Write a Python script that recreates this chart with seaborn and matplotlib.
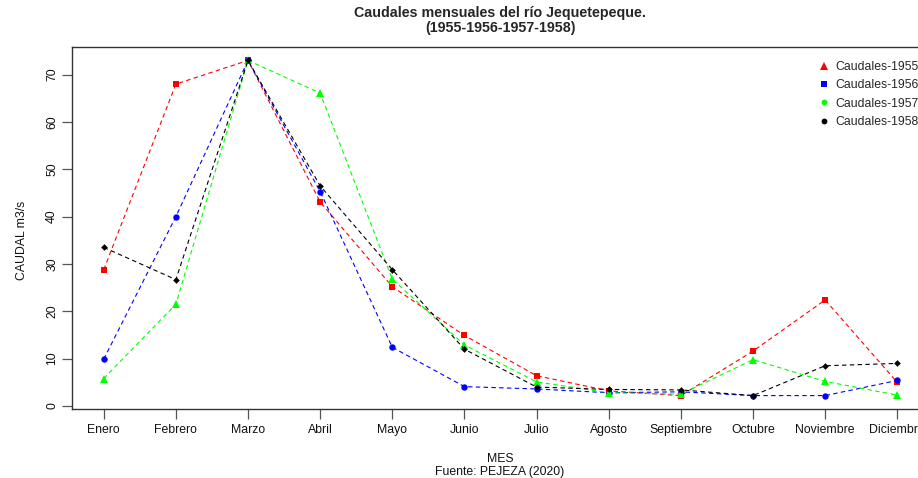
import matplotlib
matplotlib.use("Agg")
import matplotlib.pyplot as plt
from matplotlib.lines import Line2D
import seaborn as sns
import pandas as pd

meses = ["Enero", "Febrero", "Marzo", "Abril", "Mayo", "Junio", "Julio",
         "Agosto", "Septiembre", "Octubre", "Noviembre", "Diciembre"]

caudal_1955 = [28.8, 68.0, 73.0, 43.1, 25.2, 14.9, 6.4, 3.2, 2.2, 11.6, 22.4, 5.0]
caudal_1956 = [9.9, 40.0, 73.0, 45.3, 12.4, 4.1, 3.6, 2.8, 3.0, 2.2, 2.2, 5.4]
caudal_1957 = [5.8, 21.5, 73.0, 66.1, 26.8, 12.9, 5.1, 2.8, 2.5, 9.8, 5.2, 2.3]
caudal_1958 = [33.5, 26.7, 73.0, 46.5, 28.8, 12.0, 4.0, 3.5, 3.4, 2.2, 8.5, 9.0]

etiquetas = ["Caudales-1955", "Caudales-1956", "Caudales-1957", "Caudales-1958"]
colores = ["#FF0000", "#0000FF", "#00FF00", "#000000"]

df = pd.DataFrame({
    "MES": meses * 4,
    "CAUDAL": caudal_1955 + caudal_1956 + caudal_1957 + caudal_1958,
    "serie": sum([[e] * len(meses) for e in etiquetas], []),
})

sns.set_style("white")
plt.rcParams["font.family"] = ["Liberation Sans", "DejaVu Sans"]

fig = plt.figure(figsize=(9.18, 4.78), dpi=100)
ax = fig.add_axes([72 / 918, 69 / 478, 857 / 918, 362 / 478])

# markers drawn on the lines, per series
marcas = {"Caudales-1955": ("s", 5.0), "Caudales-1956": ("o", 4.6),
          "Caudales-1957": ("^", 5.6), "Caudales-1958": ("D", 3.4)}

for etiqueta, color in zip(etiquetas, colores):
    sub = df[df["serie"] == etiqueta]
    m, ms = marcas[etiqueta]
    sns.lineplot(data=sub, x="MES", y="CAUDAL", ax=ax, color=color,
                 linewidth=0.8, sort=False, marker=m, markersize=ms,
                 markeredgewidth=0, legend=False)
for line in ax.get_lines():
    line.set_dashes((4, 3))

ax.margins(x=0.04, y=0.04)

# axes styling
for s in ax.spines.values():
    s.set_color("#333333")
    s.set_linewidth(1.0)
ax.tick_params(axis="both", which="both", direction="out", length=7,
               width=0.9, color="#555555", labelsize=8.8, labelcolor="#111111",
               left=True, bottom=True)
ax.set_yticks([0, 10, 20, 30, 40, 50, 60, 70])
for lab in ax.get_yticklabels():
    lab.set_rotation(90)
    lab.set_va("center")
ax.tick_params(axis="x", pad=4)
ax.tick_params(axis="y", pad=3)

ax.set_xlabel("")
ax.set_ylabel("")
fig.text(22 / 918, 1 - 240 / 478, "CAUDAL m3/s", rotation=90, ha="center",
         va="center", fontsize=8.8, color="#111111")

fig.text(500 / 918, 1 - 13 / 478, "Caudales mensuales del río Jequetepeque.",
         ha="center", va="center", fontsize=10.3, fontweight="bold")
fig.text(500 / 918, 1 - 28 / 478, "(1955-1956-1957-1958)",
         ha="center", va="center", fontsize=10.3, fontweight="bold")
fig.text(500 / 918, 1 - 459 / 478, "MES", ha="center", va="center",
         fontsize=8.8, color="#111111")
fig.text(500 / 918, 1 - 472 / 478, "Fuente: PEJEZA (2020)", ha="center",
         va="center", fontsize=8.8, color="#111111")

# legend
leg_marcas = [("^", 5.5), ("s", 4.6), ("o", 4.2), ("o", 4.2)]
handles = [Line2D([], [], linestyle="none", marker=m, markersize=ms,
                  markerfacecolor=c, markeredgewidth=0)
           for (m, ms), c in zip(leg_marcas, colores)]
ax.legend(handles, etiquetas, loc="upper left",
          bbox_to_anchor=(819 / 918, 1 - 61 / 478),
          bbox_transform=fig.transFigure, frameon=False, fontsize=8.8,
          handlelength=0.8, handletextpad=0.5, labelspacing=0.52,
          borderpad=0, borderaxespad=0)

fig.savefig("out.png", dpi=100, facecolor="white")
